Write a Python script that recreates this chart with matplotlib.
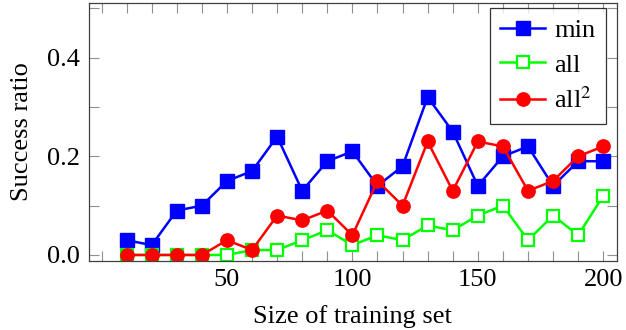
import matplotlib
matplotlib.use("Agg")
import matplotlib.pyplot as plt
from matplotlib.ticker import MultipleLocator

plt.rcParams['font.family'] = ['Liberation Serif', 'DejaVu Serif']
plt.rcParams['mathtext.fontset'] = 'stix'

sizes = [10, 20, 30, 40, 50, 60, 70, 80, 90, 100, 110, 120, 130, 140, 150, 160, 170, 180, 190, 200]
min_vals = [0.03, 0.02, 0.09, 0.10, 0.15, 0.17, 0.24, 0.13, 0.19, 0.21,
            0.14, 0.18, 0.32, 0.25, 0.14, 0.20, 0.22, 0.14, 0.19, 0.19]
all_vals = [0.0, 0.0, 0.0, 0.0, 0.0, 0.01, 0.01, 0.03, 0.05, 0.02,
            0.04, 0.03, 0.06, 0.05, 0.08, 0.10, 0.03, 0.08, 0.04, 0.12]
all2_vals = [0.0, 0.0, 0.0, 0.0, 0.03, 0.01, 0.08, 0.07, 0.09, 0.04,
             0.15, 0.10, 0.23, 0.13, 0.23, 0.22, 0.13, 0.15, 0.20, 0.22]
labels = ['min', 'all', r'all$^2$']

fs = 19
fig = plt.figure(figsize=(6.26, 3.30), dpi=100)
ax = fig.add_axes([88.5/626, 1 - 260.7/330, (617.3 - 88.5)/626, (260.7 - 3)/330])

lw = 1.8
ms = 9.6
ax.plot(sizes, min_vals, color='#0000ff', lw=lw, marker='s', ms=ms, label=labels[0])
ax.plot(sizes, all_vals, color='#00ff00', lw=lw, marker='s', ms=ms*0.85, mfc='white',
        mec='#00ff00', mew=1.6, label=labels[1])
ax.plot(sizes, all2_vals, color='#ff0000', lw=lw, marker='o', ms=ms, label=labels[2])

ax.set_xlim(-5.2, 205.6)
ax.set_ylim(-0.0116, 0.5107)
ax.xaxis.set_major_locator(MultipleLocator(50))
ax.xaxis.set_minor_locator(MultipleLocator(10))
ax.yaxis.set_major_locator(MultipleLocator(0.2))
ax.yaxis.set_minor_locator(MultipleLocator(0.1))
ax.set_yticks([0.0, 0.2, 0.4])
ax.set_yticklabels(['0.0', '0.2', '0.4'])
ax.set_xticks([50, 100, 150, 200])

for which in ('major', 'minor'):
    ax.tick_params(which=which, direction='in', length=7.5, width=0.8, color='#909090',
                   top=True, right=True, labelsize=fs, pad=6)
for s in ax.spines.values():
    s.set_color('#404040')
    s.set_linewidth(0.9)

ax.set_xlabel('Size of training set', fontsize=fs, labelpad=10)
ax.set_ylabel('Success ratio', fontsize=fs, labelpad=10)

leg = ax.legend(loc='upper right', bbox_to_anchor=(0.9786, 0.9806), borderaxespad=0,
                fontsize=fs, frameon=True, fancybox=False, handlelength=1.7,
                handletextpad=0.35, labelspacing=0.42, borderpad=0.4)
leg.get_frame().set_edgecolor('black')
leg.get_frame().set_linewidth(0.9)

fig.savefig('out.png', dpi=100)
